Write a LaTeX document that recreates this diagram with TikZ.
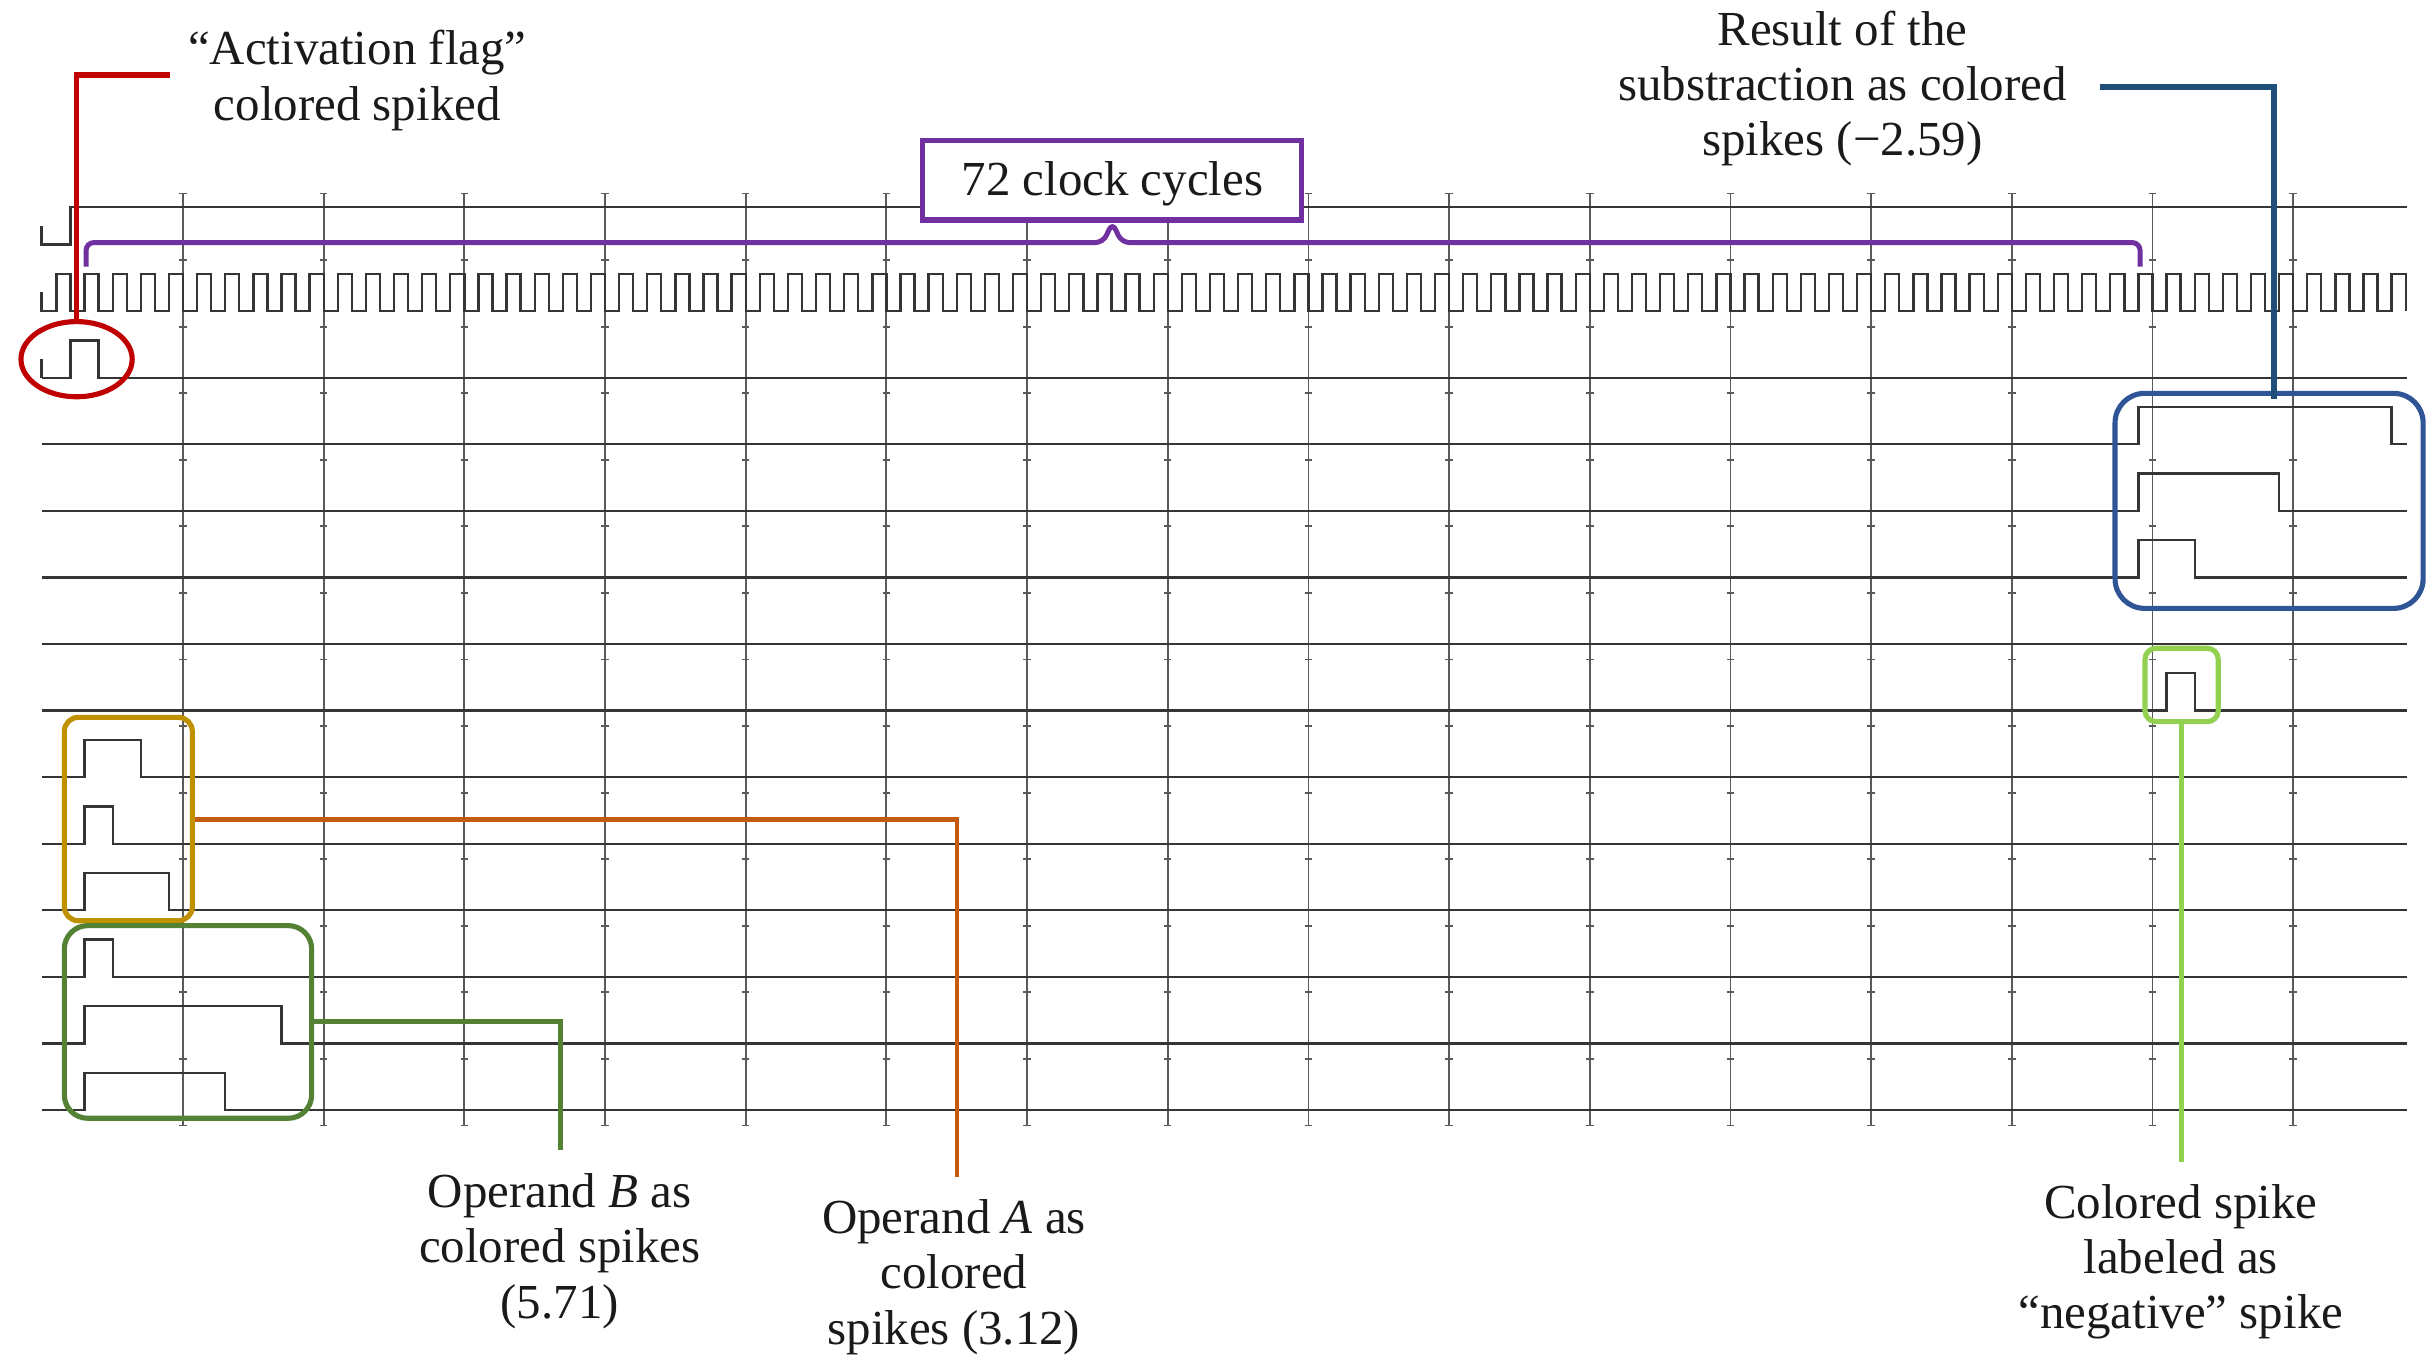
\documentclass[tikz,border=0pt]{standalone}
\usepackage{fontspec}
\setmainfont{Liberation Serif}
\usetikzlibrary{shapes.geometric}
\definecolor{sigc}{HTML}{353535}
\definecolor{gridc}{HTML}{5A5A5A}
\definecolor{redc}{HTML}{C00000}
\definecolor{purc}{HTML}{7030A0}
\definecolor{yelc}{HTML}{BF9000}
\definecolor{orac}{HTML}{C55A11}
\definecolor{grnc}{HTML}{548235}
\definecolor{lgrc}{HTML}{92D050}
\definecolor{bluc}{HTML}{2F5597}
\definecolor{bllc}{HTML}{1F4E79}
\definecolor{txtc}{HTML}{1A1A1A}
\newcommand\wvpulse[3]{\draw[sig] (26.8,{rowy(#1)}) -- ({#2},{rowy(#1)}) -- ({#2},{rowy(#1)-24}) -- ({#2+#3*18.11},{rowy(#1)-24}) -- ({#2+#3*18.11},{rowy(#1)}) -- (1549.3,{rowy(#1)});}
\begin{document}
\begin{tikzpicture}[x=1pt,y=-1pt,
  declare function={rowy(\k)=157.4+42.85*\k; rise(\n)=117.8+(\n-0.5)*18.11;},
  sig/.style={draw=sigc,line width=1.5pt},
  gridline/.style={draw=gridc,line width=1.2pt},
  hlbox/.style={draw,rectangle,inner sep=0pt,line width=3.3pt},
  conn/.style={line width=3.2pt},
  lbl/.style={font=\fontsize{31.5}{35.7}\selectfont, text=txtc, inner sep=0pt, anchor=base},
]
\useasboundingbox[fill=white] (0,0) rectangle (1568,880);

% grid
\foreach \i in {0,...,15} {
  \draw[gridline] ({117.8+90.55*\i},124.5) -- ({117.8+90.55*\i},724.5);
  \foreach \k in {-1,...,13}
    \draw[gridline] ({117.8+90.55*\i-2.4},{rowy(\k)+10}) -- ({117.8+90.55*\i+2.4},{rowy(\k)+10});
}

% row 0
\draw[sig] (26.8,{rowy(0)-12}) -- (26.8,{rowy(0)}) -- ({117.8-4*18.11},{rowy(0)}) -- ({117.8-4*18.11},{rowy(0)-24}) -- (1549.3,{rowy(0)-24});
% clock
\draw[sig] (26.8,{rowy(1)-12}) -- (26.8,{rowy(1)})
  \foreach \n in {-4,...,79}{ -- ({rise(\n)},{rowy(1)}) -- ({rise(\n)},{rowy(1)-24}) -- ({117.8+\n*18.11},{rowy(1)-24}) -- ({117.8+\n*18.11},{rowy(1)}) };
% activation flag
\draw[sig] (26.8,{rowy(2)-12}) -- (26.8,{rowy(2)});
\wvpulse{2}{117.8-4*18.11}{1}
% result
\wvpulse{3}{rise(70)}{9}
\wvpulse{4}{rise(70)}{5}
\wvpulse{5}{rise(70)}{2}
\draw[sig] (26.8,{rowy(6)}) -- (1549.3,{rowy(6)});
\wvpulse{7}{rise(71)}{1}
% operand A
\wvpulse{8}{rise(-3)}{2}
\wvpulse{9}{rise(-3)}{1}
\wvpulse{10}{rise(-3)}{3}
% operand B
\wvpulse{11}{rise(-3)}{1}
\wvpulse{12}{rise(-3)}{7}
\wvpulse{13}{rise(-3)}{5}

% highlight shapes
\node[ellipse, draw=redc, line width=3.3pt, minimum width=71.6pt, minimum height=48.4pt, inner sep=0pt] (flagell) at (49.3,231.2) {};
\node[hlbox, draw=yelc, rounded corners=9pt, minimum width=82.4pt, minimum height=130.9pt] (yelbox) at (82.6,527.2) {};
\node[hlbox, draw=grnc, rounded corners=15pt, minimum width=159.2pt, minimum height=124pt] (grnbox) at (121,657.8) {};
\node[hlbox, draw=bluc, rounded corners=19pt, minimum width=198.3pt, minimum height=138.4pt] (resbox) at (1460.55,322.4) {};
\node[hlbox, draw=lgrc, rounded corners=7pt, minimum width=47.1pt, minimum height=47.2pt] (negbox) at (1404.25,440.9) {};

% free ends of connectors
\coordinate (redend) at (109.6,48.3);
\coordinate (bluestart) at (1351.5,56.2);
\coordinate (negend) at (1404.25,747.7);
\coordinate (orend) at (616,757.4);
\coordinate (grend) at (360.5,740);
\coordinate (brL) at (55.4,171.6);
\coordinate (brR) at (1377.5,171.6);

% connectors
\draw[conn, draw=redc, line width=3.5pt] (flagell.north) |- (redend);
\draw[conn, draw=bllc, line width=4pt] (bluestart) -| ([xshift=3.2pt,yshift=-5pt]resbox.north);
\draw[conn, draw=lgrc] (negbox.south) -- (negend);
\draw[conn, draw=orac] (yelbox.east) -| (orend);
\draw[conn, draw=grnc] (grnbox.east) -| (grend);

% 72 clock cycles
\node[draw=purc, line width=3.3pt, fill=white, minimum width=244pt, minimum height=51.1pt, inner sep=0pt, text height=21pt, text depth=2pt, font=\fontsize{31.5}{35.7}\selectfont, text=txtc] (cyc) at (716,116.05) {72 clock cycles};
\draw[draw=purc, line width=3.2pt, rounded corners=5pt] (brL) |- ([xshift=-6pt,yshift=-12.9pt]cyc.south) -- (cyc.south) -- ([xshift=6pt,yshift=-12.9pt]cyc.south) -| (brR);

% labels
\node[lbl] (actlbl) at (230,41.8) {\begin{tabular}[t]{@{}c@{}}“Activation flag”\\colored spiked\end{tabular}};
\node[lbl] (reslbl) at (1186,29) {\begin{tabular}[t]{@{}c@{}}Result of the\\substraction as colored\\spikes (−2.59)\end{tabular}};
\node[lbl] (blbl) at (360.3,777) {\begin{tabular}[t]{@{}c@{}}Operand \textit{B} as\\colored spikes\\(5.71)\end{tabular}};
\node[lbl] (albl) at (614,793.8) {\begin{tabular}[t]{@{}c@{}}Operand \textit{A} as\\colored\\spikes (3.12)\end{tabular}};
\node[lbl] (neglbl) at (1403.7,784) {\begin{tabular}[t]{@{}c@{}}Colored spike\\labeled as\\“negative” spike\end{tabular}};
\end{tikzpicture}
\end{document}
